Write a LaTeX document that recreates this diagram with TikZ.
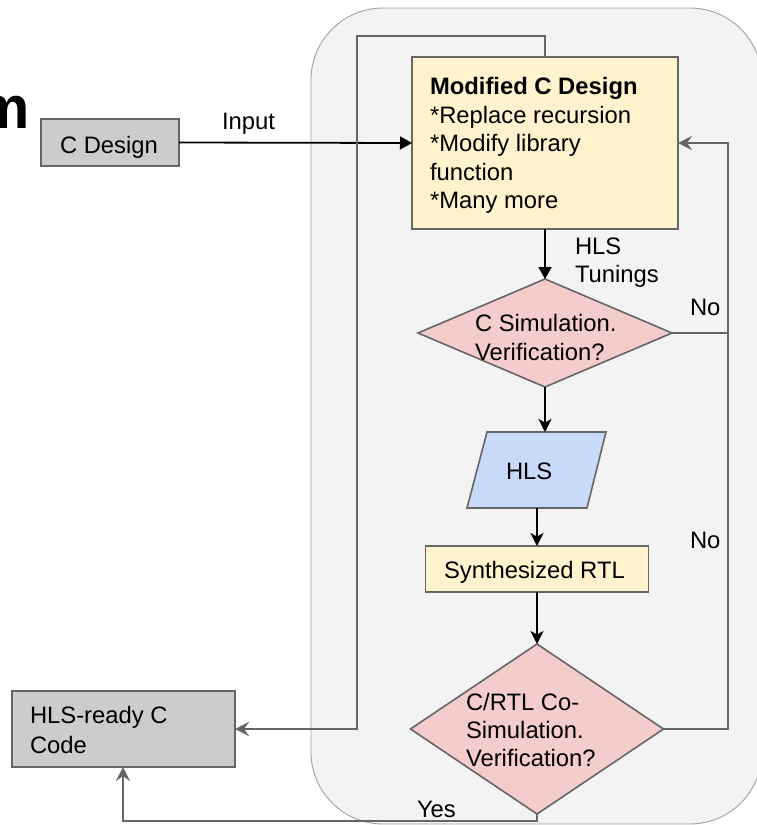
\documentclass[tikz,border=0pt]{standalone}
\usepackage{fontspec}
\setmainfont{Liberation Sans}
\usetikzlibrary{arrows.meta,shapes.geometric}
\definecolor{edgegray}{HTML}{666666}
\definecolor{panelfill}{HTML}{F3F3F3}
\definecolor{panelline}{HTML}{A0A0A0}
\definecolor{graybox}{HTML}{CCCCCC}
\definecolor{yellowbox}{HTML}{FFF2CC}
\definecolor{pinkbox}{HTML}{F4CCCC}
\definecolor{bluebox}{HTML}{C9DAF8}
\begin{document}
\begin{tikzpicture}[x=1pt,y=-1pt,
  every node/.style={font=\fontsize{23.8}{28.5}\selectfont, inner sep=0pt, outer sep=0pt},
  box/.style={draw=edgegray, line width=1.6pt, rectangle},
  dbox/.style={draw=edgegray, line width=1.6pt, diamond, fill=pinkbox},
  txt/.style={align=left},
  blackline/.style={draw=black, line width=1.8pt},
  grayline/.style={draw=edgegray, line width=1.8pt},
  tiptri/.style={-{Triangle[length=12pt,width=13pt]}},
  tipstealth/.style={-{Stealth[length=13pt,width=13pt,inset=3.5pt]}},
  tipgray/.style={-{Stealth[length=14pt,width=14pt,inset=5pt]}}
]
\useasboundingbox (0,0) rectangle (757,825);
% panel
\draw[fill=panelfill, draw=panelline, line width=0.9pt, rounded corners=72pt] (311,8) rectangle (762,824);

% title fragment
\node[anchor=base east, font=\fontsize{60}{66}\selectfont\bfseries] (title) at (30,128) {m};

% boxes
\node[box, fill=graybox, minimum width=138, minimum height=47] (cdesign) at (110,142.5) {};
\node[anchor=base west] (cdesignT) at (60,153) {C Design};

\node[box, fill=yellowbox, minimum width=266, minimum height=172] (mod) at (545,143) {};
\node[txt, anchor=north west, font=\fontsize{23.8}{28.5}\selectfont] (modT) at (430,77.7)
  {\textbf{Modified C Design}\\*Replace recursion\\*Modify library\\function\\*Many more};

\node[dbox, minimum width=254, minimum height=108] (csim) at (545,333) {};
\node[txt, anchor=north west, font=\fontsize{23.8}{29}\selectfont] (csimT) at (475,314)
  {C Simulation.\\Verification?};

\filldraw[draw=edgegray, line width=1.6pt, fill=bluebox, line join=miter] (487,432) -- (606,432) -- (587,508) -- (467,508) -- cycle;
\node[minimum width=100, minimum height=76] (hls) at (537,470) {};
\node[anchor=base west] (hlsT) at (506,479) {HLS};

\node[box, fill=yellowbox, minimum width=223, minimum height=46] (synth) at (537,569) {};
\node[anchor=base west] (synthT) at (444,578) {Synthesized RTL};

\node[dbox, minimum width=253, minimum height=170] (cosim) at (537,729) {};
\node[txt, anchor=north west, font=\fontsize{23.8}{28}\selectfont] (cosimT) at (466,693)
  {C/RTL Co-\\Simulation.\\Verification?};

\node[box, fill=graybox, minimum width=223, minimum height=76] (ready) at (123.5,729) {};
\node[txt, anchor=north west, font=\fontsize{23.8}{30}\selectfont] (readyT) at (30,706)
  {HLS-ready C\\Code};

% labels
\node[anchor=base west] (inputL) at (222,129) {Input};
\node[txt, anchor=north west, font=\fontsize{23.8}{28}\selectfont] (tuneL) at (575,238) {HLS\\Tunings};
\node[anchor=base west] (no1) at (690,315) {No};
\node[anchor=base west] (no2) at (690,548) {No};
\node[anchor=base west] (yesL) at (417,817) {Yes};

% coordinates
\coordinate (rx1) at (728,333);
\coordinate (rx2) at (728,729);
\coordinate (rtop) at (728,143);
\coordinate (t1) at (545,36);
\coordinate (t2) at (357,36);
\coordinate (t3) at (357,729);
\coordinate (b1) at (537,821);
\coordinate (b2) at (123,821);

% connectors
\draw[blackline, tiptri] (cdesign.east) -- (mod.west);
\draw[blackline, tiptri] (mod.south) -- (csim.north);
\draw[blackline, tipstealth] (csim.south) -- (csim.south |- hls.north);
\draw[blackline, tipstealth] (hls.south) -- (synth.north);
\draw[blackline, tipstealth] (synth.south) -- (cosim.north);

\draw[grayline] (csim.east) -- (rx1);
\draw[grayline, tipgray] (cosim.east) -- (rx2) -- (rtop) -- (mod.east);
\draw[grayline, tipgray] (mod.north) -- (t1) -- (t2) -- (t3) -- (ready.east);
\draw[grayline, tipgray] (cosim.south) -- (b1) -- (b2) -- (b2 |- ready.south);
\end{tikzpicture}
\end{document}
